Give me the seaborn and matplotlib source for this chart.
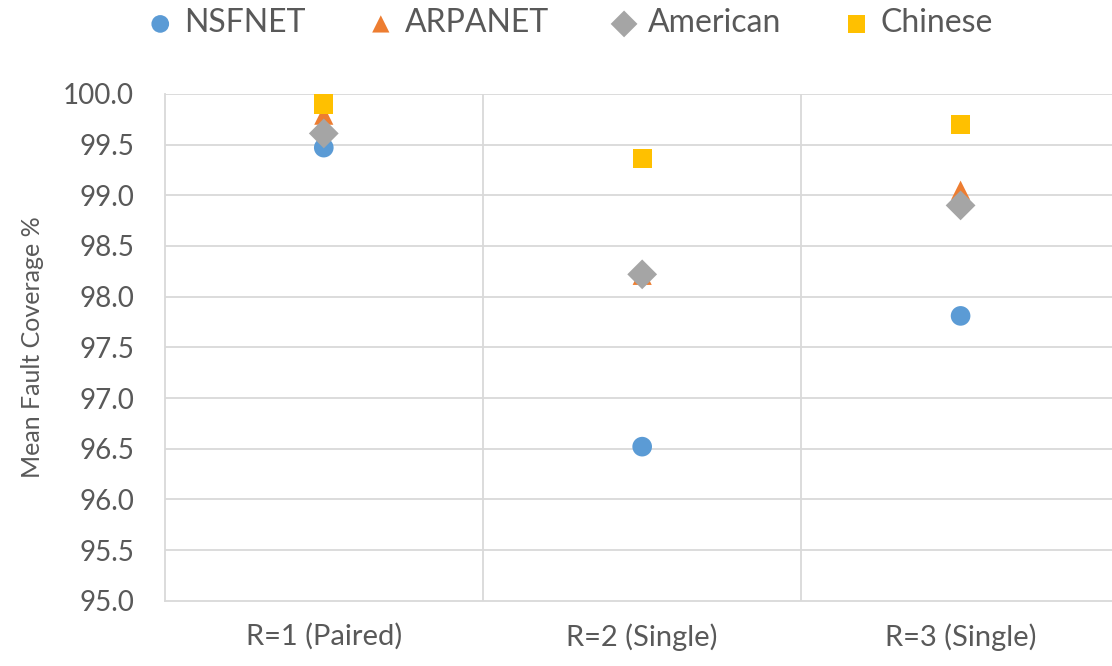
import numpy as np
import pandas as pd
import matplotlib
matplotlib.use("Agg")
import matplotlib.pyplot as plt
import seaborn as sns

categories = ["R=1 (Paired)", "R=2 (Single)", "R=3 (Single)"]
series = ["NSFNET", "ARPANET", "American", "Chinese"]
nsfnet = [99.47, 96.52, 97.81]
arpanet = [99.79, 98.21, 99.05]
american = [99.61, 98.22, 98.90]
chinese = [99.90, 99.36, 99.70]

colors = {"NSFNET": "#5b9bd5", "ARPANET": "#ed7d31", "American": "#a5a5a5", "Chinese": "#ffc000"}
markers = {"NSFNET": "o", "ARPANET": "^", "American": "D", "Chinese": "s"}
sizes = {"NSFNET": 200, "ARPANET": 190, "American": 230, "Chinese": 190}

rows = []
for name, vals in zip(series, [nsfnet, arpanet, american, chinese]):
    for i, v in enumerate(vals):
        rows.append({"pos": i, "value": v, "Network": name})
df = pd.DataFrame(rows)

sns.set_theme(style="white")
plt.rcParams["font.family"] = ["Lato", "DejaVu Sans"]

fig = plt.figure(figsize=(11.12, 6.66), dpi=100)
ax = fig.add_axes([0.148, 0.098, 0.859, 0.761])

for name in series:
    sub = df[df["Network"] == name]
    sns.scatterplot(data=sub, x="pos", y="value", color=colors[name],
                    marker=markers[name], s=sizes[name],
                    edgecolor="none", linewidth=0, ax=ax, label=name, zorder=3)

ax.set_xlim(-0.5, 2.5)
ax.set_ylim(95.0, 100.0)
yt = np.arange(95.0, 100.01, 0.5)
ax.set_yticks(yt)
ax.set_yticklabels([f"{t:.1f}" for t in yt])
ax.set_xticks(range(len(categories)))
ax.set_xticklabels(categories)

grid_c = "#d9d9d9"
for yv in np.arange(95.5, 100.01, 0.5):
    ax.axhline(yv, color=grid_c, lw=1.3, zorder=0)
for xv in [0.5, 1.5]:
    ax.axvline(xv, color=grid_c, lw=1.3, zorder=0)

for side in ["top", "right"]:
    ax.spines[side].set_visible(False)
for side in ["left", "bottom"]:
    ax.spines[side].set_color(grid_c)
    ax.spines[side].set_linewidth(1.3)

ax.tick_params(axis="y", length=0, labelsize=20, labelcolor="#595959", pad=22)
ax.tick_params(axis="x", length=0, labelsize=21, labelcolor="#595959", pad=16)
ax.set_xlabel("")
ax.set_ylabel("Mean Fault Coverage %", fontsize=18, color="#595959", labelpad=14)

handles, labels = ax.get_legend_handles_labels()
ax.get_legend().remove()
fig.legend(handles, labels, loc="center", bbox_to_anchor=(0.512, 0.965),
           ncol=4, frameon=False, fontsize=23, labelcolor="#595959",
           handlelength=0.9, handletextpad=0.3, columnspacing=1.9,
           markerscale=0.9)

fig.savefig("out.png", dpi=100)
